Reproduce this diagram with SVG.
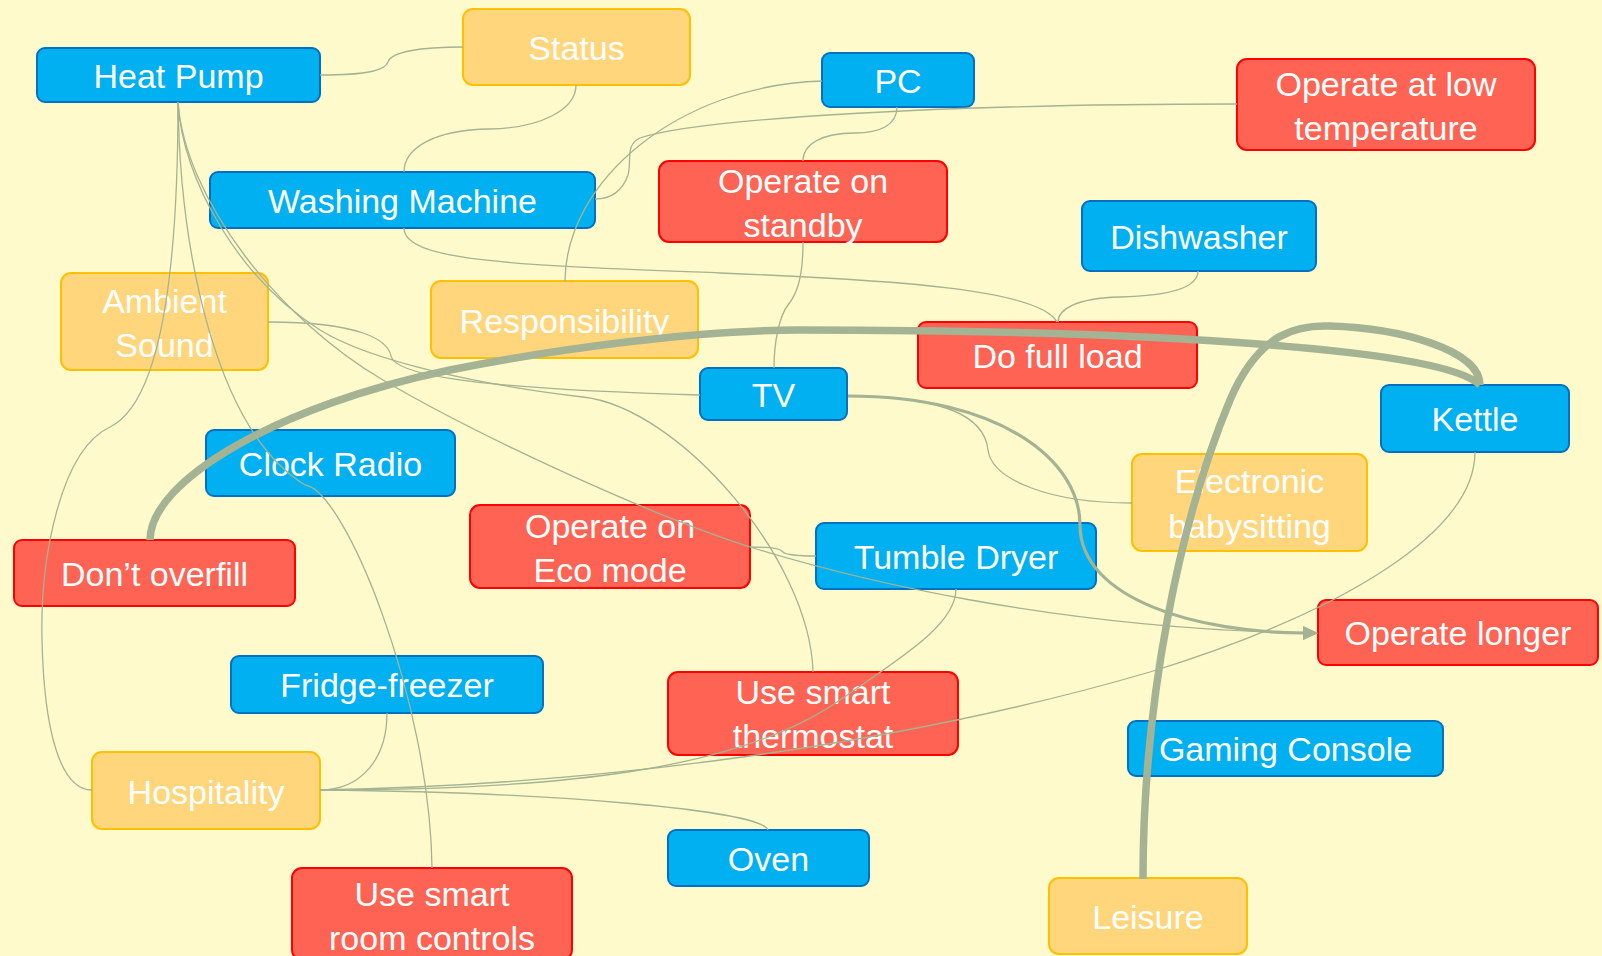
<svg xmlns="http://www.w3.org/2000/svg" width="1602" height="956" viewBox="0 0 1602 956">
  <style>
    .node rect { stroke-width: 2; }
    .blue rect { fill: #00B0F0; stroke: #0070C0; }
    .amber rect { fill: #FFD67B; stroke: #FFC000; }
    .red rect { fill: #FF6353; stroke: #FF0000; }
    .node text { font-family: "Liberation Sans", Arial, sans-serif; font-size: 34px; fill: #FFFFFF; text-anchor: middle; }
    .link { fill: none; stroke: #A3B393; stroke-width: 1.3; }
    .mid { stroke-width: 3.2; }
    .thick { stroke-width: 7.5; }
  </style>
  <defs>
    <marker id="arrow" markerUnits="userSpaceOnUse" markerWidth="15" markerHeight="14" viewBox="0 0 15 14" refX="1" refY="7" orient="auto">
      <path d="M0,0 L15,7 L0,14 z" fill="#A3B393"/>
    </marker>
  </defs>

  <rect width="1602" height="956" fill="#FFFACB"/>

  <!-- nodes -->
  <g id="heat-pump" class="node blue"><rect x="37" y="48" width="283" height="54" rx="8"/><text x="178.5" y="88">Heat Pump</text></g>
  <g id="status" class="node amber"><rect x="463" y="9" width="227" height="76" rx="10"/><text x="576.5" y="60">Status</text></g>
  <g id="pc" class="node blue"><rect x="822" y="53" width="152" height="54" rx="8"/><text x="898" y="93">PC</text></g>
  <g id="operate-low-temp" class="node red"><rect x="1237" y="59" width="298" height="91" rx="10"/><text x="1386" y="96">Operate at low</text><text x="1386" y="140">temperature</text></g>
  <g id="washing-machine" class="node blue"><rect x="210" y="172" width="385" height="56" rx="8"/><text x="402.5" y="213">Washing Machine</text></g>
  <g id="operate-standby" class="node red"><rect x="659" y="161" width="288" height="81" rx="10"/><text x="803" y="193">Operate on</text><text x="803" y="237">standby</text></g>
  <g id="dishwasher" class="node blue"><rect x="1082" y="201" width="234" height="70" rx="8"/><text x="1199" y="249">Dishwasher</text></g>
  <g id="ambient-sound" class="node amber"><rect x="61" y="273" width="207" height="97" rx="10"/><text x="164.5" y="313">Ambient</text><text x="164.5" y="357">Sound</text></g>
  <g id="responsibility" class="node amber"><rect x="431" y="281" width="267" height="77" rx="10"/><text x="564.5" y="333">Responsibility</text></g>
  <g id="do-full-load" class="node red"><rect x="918" y="322" width="279" height="66" rx="8"/><text x="1057.5" y="368">Do full load</text></g>
  <g id="tv" class="node blue"><rect x="700" y="368" width="147" height="52" rx="8"/><text x="773.5" y="407">TV</text></g>
  <g id="kettle" class="node blue"><rect x="1381" y="385" width="188" height="67" rx="8"/><text x="1475" y="431">Kettle</text></g>
  <g id="clock-radio" class="node blue"><rect x="206" y="430" width="249" height="66" rx="8"/><text x="330.5" y="476">Clock Radio</text></g>
  <g id="electronic-babysitting" class="node amber"><rect x="1132" y="454" width="235" height="97" rx="10"/><text x="1249.5" y="493">Electronic</text><text x="1249.5" y="538">babysitting</text></g>
  <g id="operate-eco" class="node red"><rect x="470" y="505" width="280" height="83" rx="10"/><text x="610" y="538">Operate on</text><text x="610" y="582">Eco mode</text></g>
  <g id="tumble-dryer" class="node blue"><rect x="816" y="523" width="280" height="66" rx="8"/><text x="956" y="569">Tumble Dryer</text></g>
  <g id="dont-overfill" class="node red"><rect x="14" y="540" width="281" height="66" rx="8"/><text x="154.5" y="586">Don’t overfill</text></g>
  <g id="operate-longer" class="node red"><rect x="1318" y="600" width="280" height="65" rx="8"/><text x="1458" y="645">Operate longer</text></g>
  <g id="fridge-freezer" class="node blue"><rect x="231" y="656" width="312" height="57" rx="8"/><text x="387" y="697">Fridge-freezer</text></g>
  <g id="smart-thermostat" class="node red"><rect x="668" y="672" width="290" height="83" rx="10"/><text x="813" y="704">Use smart</text><text x="813" y="748">thermostat</text></g>
  <g id="gaming-console" class="node blue"><rect x="1128" y="721" width="315" height="55" rx="8"/><text x="1285.5" y="761">Gaming Console</text></g>
  <g id="hospitality" class="node amber"><rect x="92" y="752" width="228" height="77" rx="10"/><text x="206" y="804">Hospitality</text></g>
  <g id="oven" class="node blue"><rect x="668" y="830" width="201" height="56" rx="8"/><text x="768.5" y="871">Oven</text></g>
  <g id="smart-room-controls" class="node red"><rect x="292" y="868" width="280" height="92" rx="10"/><text x="432" y="906">Use smart</text><text x="432" y="950">room controls</text></g>
  <g id="leisure" class="node amber"><rect x="1049" y="878" width="198" height="76" rx="10"/><text x="1148" y="929">Leisure</text></g>

  <!-- connectors -->
  <g id="connectors">
    <path class="link" d="M320,75 C370,75 385,70 388,62 C391,52 420,47 463,47"/>
    <path class="link" d="M576,85 C576,110 540,128 490,129 C430,130 404,150 404,172"/>
    <path class="link" d="M822,81 C680,85 565,180 565,282"/>
    <path class="link" d="M1237,104 C950,104 700,118 640,138 C625,145 632,160 628,175 C622,192 610,199 595,199"/>
    <path class="link" d="M897,107 C897,125 880,133 855,133 C820,133 803,145 803,161"/>
    <path class="link" d="M803,242 C803,280 796,295 788,305 C780,315 774,340 774,368"/>
    <path class="link" d="M404,228 C404,262 520,265 720,273 C900,280 1040,290 1057,322"/>
    <path class="link" d="M1198,271 C1198,290 1160,296 1120,297 C1075,298 1058,310 1058,322"/>
    <path class="link" d="M178,102 C178,250 165,400 110,427 C60,450 40,560 42,640 C44,730 60,790 92,790"/>
    <path class="link" d="M178,102 C180,250 215,430 305,485 C345,490 430,700 432,868"/>
    <path class="link" d="M178,102 C182,180 240,280 320,330 C370,361 480,385 583,397 C680,408 810,560 813,672"/>
    <path class="link" d="M178,102 C185,200 280,320 383,380 C480,437 650,515 750,547 C850,578 1050,628 1304,633" marker-end="url(#arrow)"/>
    <path class="link" d="M268,322 C360,322 388,340 391,356 C394,372 450,388 700,395"/>
    <path class="link" d="M848,396 C950,396 985,420 988,450 C992,480 1050,503 1132,503"/>
    <path class="link" d="M750,547 C775,547 780,549 783,552 C786,555 795,556 816,556"/>
    <path class="link" d="M320,790 C360,790 387,760 387,713"/>
    <path class="link" d="M320,790 C550,792 760,810 768,830"/>
    <path class="link" d="M320,790 C600,785 900,745 1150,672 C1350,610 1475,530 1475,452"/>
    <path class="link" d="M320,790 C560,790 740,770 840,700 C900,658 956,625 956,589"/>
    <path class="link mid" d="M848,396 C1000,396 1080,460 1080,525 C1080,600 1200,633 1304,633" marker-end="url(#arrow)"/>
    <path class="link thick" d="M150,540 C150,480 280,405 450,370 C560,348 700,330 800,330 C1100,330 1440,345 1480,385"/>
    <path class="link thick" d="M1143,879 C1143,700 1180,520 1230,400 C1260,330 1300,325 1330,326 C1400,328 1480,350 1480,385"/>
  </g>
</svg>
